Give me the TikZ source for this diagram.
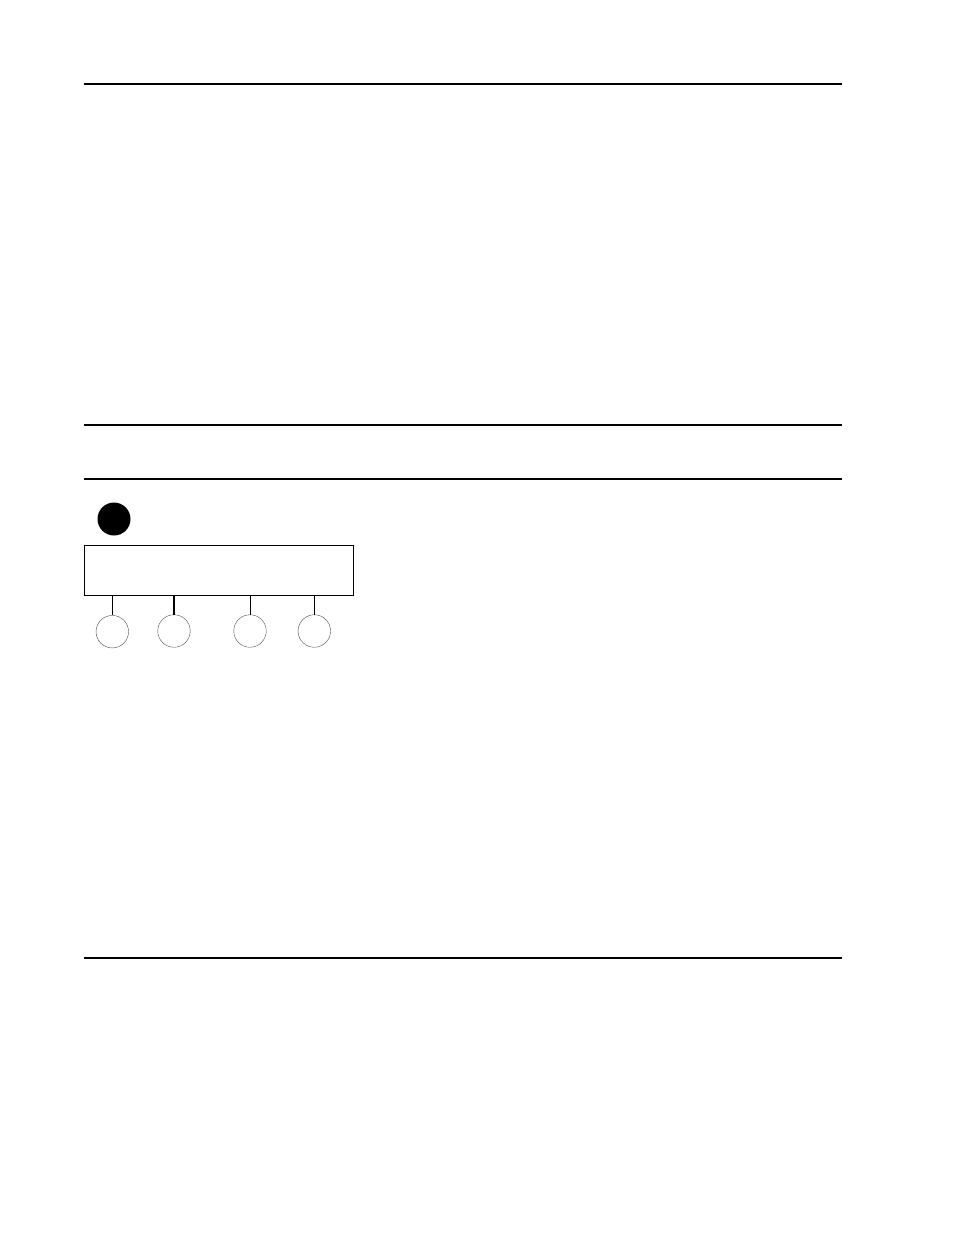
\documentclass[tikz,border=0pt]{standalone}
\usepackage{tikz}

\begin{document}
\begin{tikzpicture}[x=1pt,y=-1pt,
    port/.style={shape=circle,draw=black!70,minimum size=32.5pt,inner sep=0pt},
    lead/.style={line width=1pt}]
    \useasboundingbox (0,0) rectangle (954,1235);

    \coordinate (r1a) at (84,84);
    \coordinate (r1b) at (842,84);
    \coordinate (r2a) at (84,425);
    \coordinate (r2b) at (842,425);
    \coordinate (r3a) at (84,479);
    \coordinate (r3b) at (842,479);
    \coordinate (r4a) at (84,958);
    \coordinate (r4b) at (842,958);
    \draw[line width=2pt] (r1a) -- (r1b);
    \draw[line width=2pt] (r2a) -- (r2b);
    \draw[line width=1.2pt] (r3a) -- (r3b);
    \draw[line width=1.2pt] (r4a) -- (r4b);

    \node[shape=circle,fill=black,minimum size=33pt,inner sep=0pt] (dot) at (114,519) {};
    \node[shape=rectangle,draw,line width=1pt,minimum width=269pt,minimum height=50pt,inner sep=0pt] (box) at (218.5,570) {};

    \node[port] (1) at (112.3,631.7) {};
    \node[port] (2) at (174,631) {};
    \node[port] (3) at (250,631) {};
    \node[port] (4) at (314.3,631) {};

    \path[lead] (1.north |- box.south) edge (1.north);
    \path[lead,line width=1.8pt] (2.north |- box.south) edge (2.north);
    \path[lead] (3.north |- box.south) edge (3.north);
    \path[lead] (4.north |- box.south) edge (4.north);
\end{tikzpicture}
\end{document}
